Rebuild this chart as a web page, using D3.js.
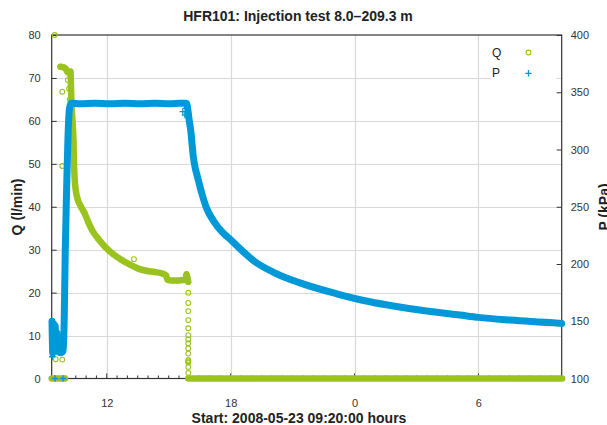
<!DOCTYPE html>
<html><head><meta charset="utf-8">
<script src="https://cdn.jsdelivr.net/npm/d3@7"></script>
<style>
body{margin:0;background:#fff}
svg{display:block;font-family:"Liberation Sans",Arial,Helvetica,sans-serif}
</style>
</head><body>
<svg id="chart" width="607" height="425"></svg>
<script>
// ---------------- DATA (hours elapsed since start, values) ----------------
const startTime = new Date(2008, 4, 23, 9, 20, 0);
const endHours = 24.7;

const titleText = "HFR101: Injection test 8.0\u2013209.3 m";
const xLabelText = "Start: 2008-05-23 09:20:00 hours";
const qLabelText = "Q (l/min)";
const pLabelText = "P (kPa)";

const qTicks = [0, 10, 20, 30, 40, 50, 60, 70, 80];
const pTicks = [100, 150, 200, 250, 300, 350, 400];

// Pressure P (kPa) - dense band
const pBandHours = [0.015,0.053,0.092,0.131,0.169,0.208,0.247,0.286,0.354,0.450,0.547,0.571,0.605,0.654,0.726,0.789,0.862,0.935,
  1.370,2.097,2.823,3.550,4.276,5.002,5.729,6.213,6.528,6.663,6.731,6.857,6.906,7.099,7.280,7.472,7.860,8.250,8.683,9.167,9.845,10.717,
  12.024,13.801,15.414,16.542,18.160,19.773,20.659,22.194,24.697];
const pBandKPa = [150,122,148,124,146,125,140,124,123,122.5,124,130,151,209,268,311,336,340.5,
  340,340.5,340,340.5,340,340.5,340,340.5,340.5,325,317,294,288,273.5,261,250,237,228,221,212.5,202,193,
  183.5,174,167,163.3,158.9,155.4,153.4,151,148.1];
// Pressure P - isolated points
const pDotHours = [0.03, 0.16, 0.55, 6.35, 6.45, 6.50];
const pDotKPa   = [119, 100, 100, 333, 330, 336];

// Flow Q (l/min) - dense band
const qBandHours = [0.426,0.547,0.668,0.789,0.910,0.935,0.959,1.007,1.056,1.080,1.119,1.177,1.274,1.419,1.613,1.782,1.952,
  2.242,2.581,2.969,3.390,3.792,4.194,4.567,5.002,5.390,5.535,5.608,5.826,6.068,6.310,6.479,6.528,6.576,6.615];
const qBandLpm = [72.6,72.5,72.2,71.3,71.5,68,64,60,55,50,46,43.5,41.5,40,38.3,36.3,34.6,
  32.6,30.7,29,27.6,26.5,25.6,25.1,24.8,24.4,24,23,22.8,22.8,22.9,23,24.3,23.4,22.5];
// Flow Q - zero periods
const qZeroStartHours = [0.0, 0.64];
const qZeroEndHours = [6.62, 24.72];
// Flow Q - isolated points
const qDotHours = [0.145,0.194,0.513,0.513,0.513,3.985,0.78,0.84,0.88,0.90,
  6.615,6.615,6.615,6.615,6.615,6.615,6.615,6.615,6.615,6.615,6.615,6.615,6.615,6.615,6.615];
const qDotLpm = [80,4.5,4.4,66.8,49.5,27.8,69.5,67.5,65,62.5,
  20,17.6,15.7,13.6,11.7,10.1,9.1,8.2,7.0,5.8,4.3,4.0,3.7,2.7,1.3];

// ---------------- STYLE ----------------
const qColor = "#9ac31e";
const pColor = "#0099d8";
const gridColor = "#d9d9d9";
const axisColor = "#333";
const margin = {left: 51.7, right: 561.7, top: 35, bottom: 378.5};

const toDate = h => new Date(startTime.getTime() + h * 3600000);

const svg = d3.select("#chart");
svg.append("rect").attr("width", 607).attr("height", 425).attr("fill", "#fff");

const x = d3.scaleTime().domain([startTime, toDate(endHours)]).range([margin.left, margin.right]);
const yQ = d3.scaleLinear().domain([0, 80]).range([margin.bottom, margin.top]);
const yP = d3.scaleLinear().domain([100, 400]).range([margin.bottom, margin.top]);

// grid
const majorTicks = x.ticks(d3.timeHour.every(6));
svg.append("g").selectAll("line").data(majorTicks).join("line")
  .attr("x1", d => Math.round(x(d)) + 0.5).attr("x2", d => Math.round(x(d)) + 0.5)
  .attr("y1", margin.top).attr("y2", margin.bottom)
  .attr("stroke", gridColor).attr("stroke-width", 1.2);
svg.append("g").selectAll("line").data(qTicks.filter(v => v > 0 && v < 80)).join("line")
  .attr("x1", margin.left).attr("x2", margin.right)
  .attr("y1", d => Math.round(yQ(d)) + 0.5).attr("y2", d => Math.round(yQ(d)) + 0.5)
  .attr("stroke", gridColor).attr("stroke-width", 1.2);

// axes
const xAxis = d3.axisBottom(x).tickValues(majorTicks).tickFormat(d3.timeFormat("%-H")).tickSize(0).tickPadding(0);
const gx = svg.append("g").attr("transform", `translate(0,${margin.bottom})`).call(xAxis);
gx.select(".domain").remove();
gx.selectAll("text").attr("y", 21).attr("font-size", 11).attr("fill", axisColor).attr("font-family", null);

// minor ticks on bottom
const minorTicks = x.ticks(d3.timeMinute.every(30));
svg.append("g").selectAll("line").data(minorTicks).join("line")
  .attr("x1", d => x(d)).attr("x2", d => x(d))
  .attr("y1", margin.bottom).attr("y2", d => d.getMinutes() === 0 && d.getHours() % 6 === 0 ? margin.bottom - 5 : margin.bottom - 3)
  .attr("stroke", axisColor).attr("stroke-width", 1);

const gyL = svg.append("g").attr("transform", `translate(${margin.left},0)`)
  .call(d3.axisRight(yQ).tickValues(qTicks).tickSize(5).tickFormat(d3.format("d")));
gyL.select(".domain").remove();
gyL.selectAll(".tick line").attr("stroke", axisColor);
gyL.selectAll("text").attr("x", -11).attr("text-anchor", "end").attr("font-size", 11).attr("fill", axisColor).attr("font-family", null);

const gyR = svg.append("g").attr("transform", `translate(${margin.right},0)`)
  .call(d3.axisLeft(yP).tickValues(pTicks).tickSize(5).tickFormat(d3.format("d")));
gyR.select(".domain").remove();
gyR.selectAll(".tick line").attr("stroke", axisColor);
gyR.selectAll("text").attr("x", 9).attr("text-anchor", "start").attr("font-size", 11).attr("fill", axisColor).attr("font-family", null);

// frame
svg.append("rect").attr("x", margin.left).attr("y", margin.top)
  .attr("width", margin.right - margin.left).attr("height", margin.bottom - margin.top)
  .attr("fill", "none").attr("stroke", axisColor).attr("stroke-width", 1.2);

// ---------------- SERIES ----------------
const qLine = d3.line().x(d => x(toDate(d[0]))).y(d => yQ(d[1])).curve(d3.curveMonotoneX);
const pLine = d3.line().x(d => x(toDate(d[0]))).y(d => yP(d[1])).curve(d3.curveMonotoneX);

const qBand = qBandHours.map((h, i) => [h, qBandLpm[i]]);
const qZero1 = qZeroStartHours.map(h => [h, 0]);
const qZero2 = qZeroEndHours.map(h => [h, 0]);
const pBand = pBandHours.map((h, i) => [h, pBandKPa[i]]);

const gQ = svg.append("g");
[qZero1, qBand, qZero2].forEach(seg => {
  gQ.append("path").attr("d", qLine(seg)).attr("fill", "none").attr("stroke", qColor)
    .attr("stroke-width", 6.5).attr("stroke-linecap", "round").attr("stroke-linejoin", "round");
});
gQ.selectAll("circle.band").data(qBand).join("circle").attr("class", "band")
  .attr("cx", d => x(toDate(d[0]))).attr("cy", d => yQ(d[1])).attr("r", 2.4)
  .attr("fill", "none").attr("stroke", qColor).attr("stroke-width", 1.1);
gQ.selectAll("circle.dot").data(qDotHours.map((h, i) => [h, qDotLpm[i]])).join("circle").attr("class", "dot")
  .attr("cx", d => x(toDate(d[0]))).attr("cy", d => yQ(d[1])).attr("r", 2.4)
  .attr("fill", "none").attr("stroke", qColor).attr("stroke-width", 1.1);

const gP = svg.append("g");
gP.append("path").attr("d", pLine(pBand)).attr("fill", "none").attr("stroke", pColor)
  .attr("stroke-width", 7).attr("stroke-linecap", "round").attr("stroke-linejoin", "round");
const plus = (g, cx, cy, s) => {
  g.append("path").attr("d", `M${cx - s},${cy}H${cx + s}M${cx},${cy - s}V${cy + s}`)
    .attr("stroke", pColor).attr("stroke-width", 1.3).attr("fill", "none");
};
pDotHours.forEach((h, i) => plus(gP, x(toDate(h)), yP(pDotKPa[i]), 3.2));

// ---------------- LEGEND ----------------
const lg = svg.append("g");
lg.append("rect").attr("x", 491).attr("y", 37).attr("width", 65).attr("height", 45).attr("fill", "#fff");
lg.append("text").attr("x", 492).attr("y", 57).attr("font-size", 12).attr("fill", "#222").text("Q");
lg.append("circle").attr("cx", 528.5).attr("cy", 52.5).attr("r", 2.4).attr("fill", "none")
  .attr("stroke", qColor).attr("stroke-width", 1.1);
lg.append("text").attr("x", 492).attr("y", 77).attr("font-size", 12).attr("fill", "#222").text("P");
plus(lg, 528.5, 73.3, 3.2);

// ---------------- TEXT ----------------
svg.append("text").attr("x", 298).attr("y", 21).attr("text-anchor", "middle")
  .attr("font-size", 14).attr("font-weight", "bold").attr("fill", "#222").text(titleText);
svg.append("text").attr("x", 299).attr("y", 423).attr("text-anchor", "middle")
  .attr("font-size", 14).attr("font-weight", "bold").attr("fill", "#222").text(xLabelText);
svg.append("text").attr("transform", "translate(22,207) rotate(-90)").attr("text-anchor", "middle")
  .attr("font-size", 14).attr("font-weight", "bold").attr("fill", "#222").text(qLabelText);
svg.append("text").attr("transform", "translate(609,207) rotate(-90)").attr("text-anchor", "middle")
  .attr("font-size", 14).attr("font-weight", "bold").attr("fill", "#222").text(pLabelText);
</script>
</body></html>
